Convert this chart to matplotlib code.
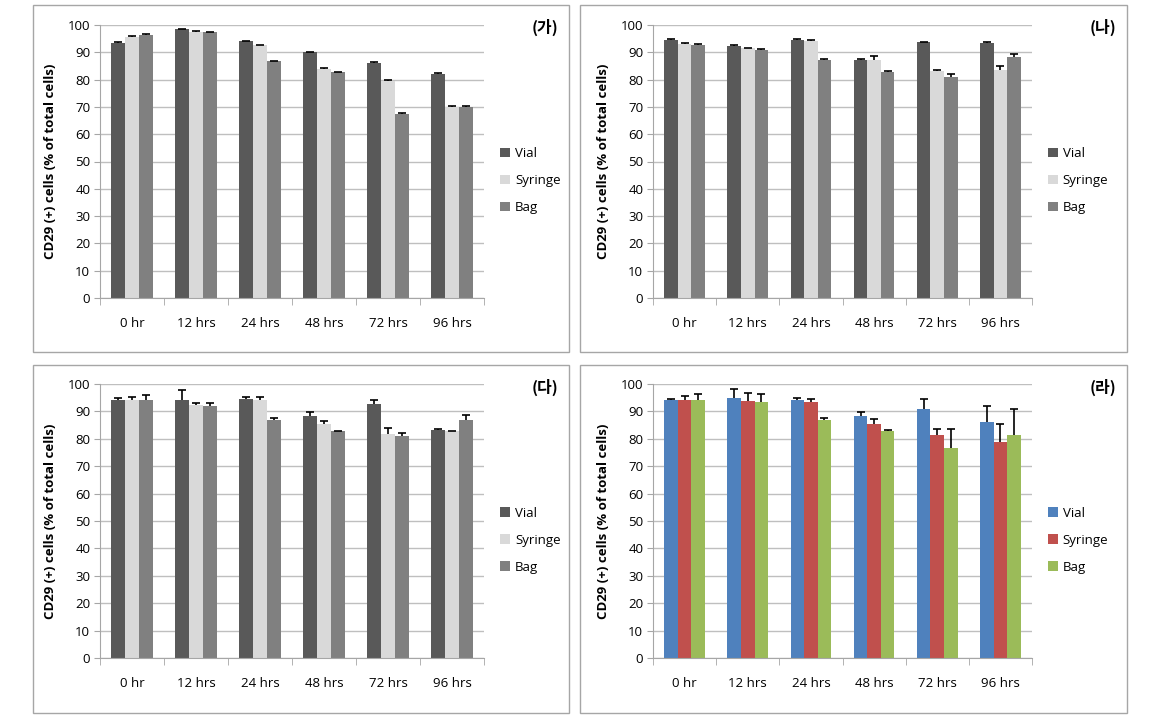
import numpy as np
import matplotlib
matplotlib.use("Agg")
import matplotlib.pyplot as plt
from matplotlib.patches import Rectangle

plt.rcParams["font.family"] = ["Open Sans", "Noto Sans CJK KR", "DejaVu Sans"]

W, H = 1150, 717

times = ["0 hr", "12 hrs", "24 hrs", "48 hrs", "72 hrs", "96 hrs"]
series = ["Vial", "Syringe", "Bag"]

# panel (가)
ga_vial = [93.5, 98.5, 94.0, 90.0, 86.0, 82.0]
ga_syringe = [95.5, 97.5, 92.5, 84.0, 79.5, 70.0]
ga_bag = [96.5, 97.3, 86.8, 82.7, 67.3, 70.0]
ga_vial_err = [0.3, 0.0, 0.3, 0.0, 0.3, 0.3]
ga_syringe_err = [0.3, 0.3, 0.0, 0.3, 0.3, 0.2]
ga_bag_err = [0.3, 0.3, 0.0, 0.2, 0.3, 0.5]

# panel (나)
na_vial = [94.5, 92.3, 94.5, 87.3, 93.7, 93.5]
na_syringe = [93.2, 91.5, 94.3, 87.0, 83.0, 83.5]
na_bag = [92.5, 90.9, 87.3, 82.9, 80.9, 88.3]
na_vial_err = [0.3, 0.4, 0.3, 0.2, 0.0, 0.3]
na_syringe_err = [0.2, 0.2, 0.3, 1.8, 0.6, 1.3]
na_bag_err = [0.5, 0.3, 0.2, 0.2, 1.2, 1.0]

# panel (다)
da_vial = [94.2, 94.3, 94.5, 88.5, 92.8, 83.2]
da_syringe = [94.0, 92.3, 94.0, 85.3, 81.8, 82.8]
da_bag = [94.0, 91.8, 87.0, 82.8, 81.2, 86.7]
da_vial_err = [0.6, 3.4, 0.6, 1.4, 1.5, 0.5]
da_syringe_err = [1.3, 0.8, 1.2, 1.2, 2.2, 0.1]
da_bag_err = [2.0, 1.3, 0.5, 0.0, 0.8, 2.0]

# panel (라)
ra_vial = [94.0, 95.0, 94.3, 88.4, 90.9, 86.2]
ra_syringe = [94.3, 93.8, 93.6, 85.3, 81.5, 78.7]
ra_bag = [94.3, 93.5, 87.0, 82.8, 76.5, 81.5]
ra_vial_err = [0.5, 3.2, 0.5, 1.3, 3.8, 5.6]
ra_syringe_err = [1.2, 2.8, 1.0, 1.8, 2.0, 6.8]
ra_bag_err = [2.0, 3.0, 0.5, 0.3, 7.0, 9.2]

GRAY = ["#595959", "#d9d9d9", "#808080"]
COLOR = ["#4f81bd", "#c0504d", "#9bbb59"]


def px_axes(fig, x0, y0, x1, y1):
    return fig.add_axes([x0 / W, 1 - y1 / H, (x1 - x0) / W, (y1 - y0) / H])


def draw_panel(fig, box, ax_box, tag, values, errs, colors):
    bx0, by0, bx1, by1 = box
    fig.patches.append(Rectangle((bx0 / W, 1 - by1 / H), (bx1 - bx0) / W, (by1 - by0) / H,
                                 transform=fig.transFigure, fill=False,
                                 edgecolor="#a6a6a6", linewidth=1.0))
    ax = px_axes(fig, *ax_box)
    x = np.arange(len(times))
    width = 0.215
    for i, (vals, err) in enumerate(zip(values, errs)):
        bars = ax.bar(x + (i - 1) * width, vals, width, color=colors[i], label=series[i],
                      yerr=[np.zeros(len(err)), err], capsize=3.2,
                      error_kw=dict(ecolor="black", elinewidth=1.2, capthick=1.2), zorder=2)
        # only the upper cap, like Excel's "plus" error bars
        caps = bars.errorbar.lines[1]
        if len(caps) == 2:
            caps[0].set_visible(False)
    ax.set_ylim(0, 100)
    ax.set_xlim(-0.5, len(times) - 0.5)
    ax.set_yticks(np.arange(0, 101, 10))
    ax.yaxis.grid(True, color="#bfbfbf", linewidth=1.0, zorder=0)
    ax.set_axisbelow(True)
    ax.set_xticks(x)
    ax.set_xticklabels(times, fontsize=9.5)
    ax.set_xticks(np.arange(-0.5, len(times), 1), minor=True)
    ax.tick_params(axis="x", which="major", length=0, pad=14)
    ax.tick_params(axis="x", which="minor", length=5, color="#a6a6a6")
    ax.tick_params(axis="y", length=4, color="#a6a6a6", labelsize=9.5, pad=3)
    for s in ["top", "right"]:
        ax.spines[s].set_visible(False)
    for s in ["left", "bottom"]:
        ax.spines[s].set_color("#a6a6a6")
    ax.set_ylabel("CD29 (+) cells (% of total cells)", fontsize=9.5, fontweight="bold", labelpad=8)
    ax.legend(loc="center left", bbox_to_anchor=(1.01, 0.43), frameon=False, fontsize=9.5,
              handlelength=0.75, handleheight=0.75, handletextpad=0.4, labelspacing=1.05)
    fig.text((bx1 - 24) / W, 1 - 27 / H - (by0 - 5) / H, tag, ha="center", va="center",
             fontsize=11.5, fontweight="bold", family=["Noto Sans CJK KR", "DejaVu Sans"])
    return ax


fig = plt.figure(figsize=(W / 100, H / 100), dpi=100)

draw_panel(fig, (33, 5, 569, 352), (100, 25, 484, 298), "(가)",
           [ga_vial, ga_syringe, ga_bag], [ga_vial_err, ga_syringe_err, ga_bag_err], GRAY)
draw_panel(fig, (580, 5, 1127, 352), (653, 25, 1032, 298), "(나)",
           [na_vial, na_syringe, na_bag], [na_vial_err, na_syringe_err, na_bag_err], GRAY)
draw_panel(fig, (33, 365, 569, 713), (100, 384, 484, 658), "(다)",
           [da_vial, da_syringe, da_bag], [da_vial_err, da_syringe_err, da_bag_err], GRAY)
draw_panel(fig, (580, 365, 1127, 713), (653, 384, 1032, 658), "(라)",
           [ra_vial, ra_syringe, ra_bag], [ra_vial_err, ra_syringe_err, ra_bag_err], COLOR)

fig.savefig("out.png", dpi=100)
